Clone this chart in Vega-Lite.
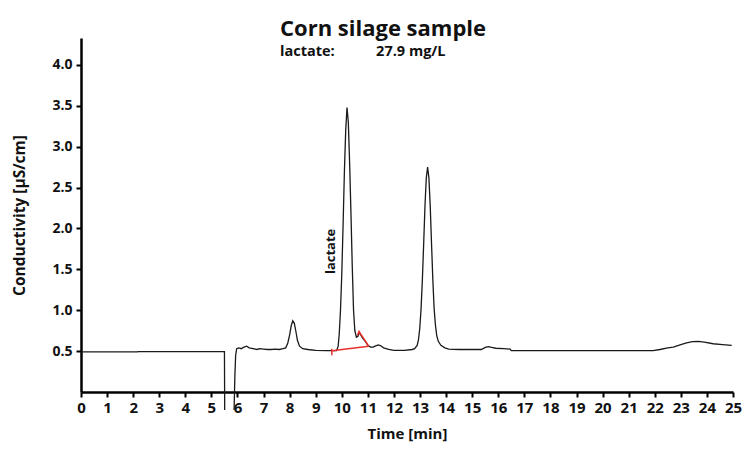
{
  "$schema": "https://vega.github.io/schema/vega-lite/v6.json",
  "width": 652,
  "height": 354,
  "autosize": {"type": "none"},
  "padding": {"left": 81, "top": 38, "right": 11, "bottom": 64},
  "background": "white",
  "config": {
    "view": {"stroke": null},
    "font": "Open Sans"
  },
  "title": {
    "text": "Corn silage sample",
    "subtitle": "lactate:\u00a0\u00a0\u00a0\u00a0\u00a0\u00a0\u00a0\u00a0\u00a0\u00a0\u00a027.9 mg/L",
    "anchor": "start",
    "frame": "group",
    "dx": 199,
    "offset": -21,
    "font": "Open Sans",
    "fontSize": 22,
    "fontWeight": "bold",
    "color": "#111",
    "subtitleFont": "Open Sans",
    "subtitleFontSize": 14.5,
    "subtitleFontWeight": "bold",
    "subtitleColor": "#111",
    "subtitlePadding": 4
  },
  "datasets": {
    "trace": [
      {"t": 0, "y": 0.49, "seg": "a"},
      {"t": 2.15, "y": 0.49, "seg": "a"},
      {"t": 2.2, "y": 0.495, "seg": "a"},
      {"t": 5.5, "y": 0.495, "seg": "a"},
      {"t": 5.51, "y": -0.22, "seg": "a"},
      {"t": 5.87, "y": -0.22, "seg": "b"},
      {"t": 5.9, "y": 0.2, "seg": "b"},
      {"t": 5.93, "y": 0.45, "seg": "b"},
      {"t": 5.97, "y": 0.53, "seg": "b"},
      {"t": 6.05, "y": 0.54, "seg": "b"},
      {"t": 6.15, "y": 0.53, "seg": "b"},
      {"t": 6.25, "y": 0.55, "seg": "b"},
      {"t": 6.35, "y": 0.56, "seg": "b"},
      {"t": 6.45, "y": 0.54, "seg": "b"},
      {"t": 6.6, "y": 0.53, "seg": "b"},
      {"t": 6.75, "y": 0.52, "seg": "b"},
      {"t": 6.85, "y": 0.53, "seg": "b"},
      {"t": 7.0, "y": 0.525, "seg": "b"},
      {"t": 7.15, "y": 0.52, "seg": "b"},
      {"t": 7.3, "y": 0.52, "seg": "b"},
      {"t": 7.45, "y": 0.525, "seg": "b"},
      {"t": 7.6, "y": 0.52, "seg": "b"},
      {"t": 7.75, "y": 0.53, "seg": "b"},
      {"t": 7.85, "y": 0.54, "seg": "b"},
      {"t": 7.93, "y": 0.6, "seg": "b"},
      {"t": 8.0, "y": 0.7, "seg": "b"},
      {"t": 8.06, "y": 0.81, "seg": "b"},
      {"t": 8.12, "y": 0.87, "seg": "b"},
      {"t": 8.18, "y": 0.84, "seg": "b"},
      {"t": 8.24, "y": 0.74, "seg": "b"},
      {"t": 8.3, "y": 0.63, "seg": "b"},
      {"t": 8.38, "y": 0.56, "seg": "b"},
      {"t": 8.5, "y": 0.53, "seg": "b"},
      {"t": 8.7, "y": 0.52, "seg": "b"},
      {"t": 9.0, "y": 0.51, "seg": "b"},
      {"t": 9.4, "y": 0.505, "seg": "b"},
      {"t": 9.8, "y": 0.505, "seg": "b"},
      {"t": 9.86, "y": 0.56, "seg": "b"},
      {"t": 9.9, "y": 0.7, "seg": "b"},
      {"t": 9.95, "y": 1.0, "seg": "b"},
      {"t": 10.0, "y": 1.45, "seg": "b"},
      {"t": 10.05, "y": 2.05, "seg": "b"},
      {"t": 10.1, "y": 2.7, "seg": "b"},
      {"t": 10.15, "y": 3.2, "seg": "b"},
      {"t": 10.2, "y": 3.48, "seg": "b"},
      {"t": 10.25, "y": 3.3, "seg": "b"},
      {"t": 10.3, "y": 2.8, "seg": "b"},
      {"t": 10.35, "y": 2.2, "seg": "b"},
      {"t": 10.4, "y": 1.55, "seg": "b"},
      {"t": 10.45, "y": 1.0, "seg": "b"},
      {"t": 10.5, "y": 0.75, "seg": "b"},
      {"t": 10.56, "y": 0.67, "seg": "b"},
      {"t": 10.62, "y": 0.68, "seg": "b"},
      {"t": 10.67, "y": 0.73, "seg": "b"},
      {"t": 10.72, "y": 0.7, "seg": "b"},
      {"t": 10.8, "y": 0.66, "seg": "b"},
      {"t": 10.9, "y": 0.62, "seg": "b"},
      {"t": 11.0, "y": 0.57, "seg": "b"},
      {"t": 11.1, "y": 0.55, "seg": "b"},
      {"t": 11.2, "y": 0.55, "seg": "b"},
      {"t": 11.3, "y": 0.565, "seg": "b"},
      {"t": 11.4, "y": 0.575, "seg": "b"},
      {"t": 11.5, "y": 0.565, "seg": "b"},
      {"t": 11.6, "y": 0.54, "seg": "b"},
      {"t": 11.8, "y": 0.52, "seg": "b"},
      {"t": 12.0, "y": 0.51, "seg": "b"},
      {"t": 12.4, "y": 0.51, "seg": "b"},
      {"t": 12.7, "y": 0.52, "seg": "b"},
      {"t": 12.79, "y": 0.53, "seg": "b"},
      {"t": 12.89, "y": 0.57, "seg": "b"},
      {"t": 12.94, "y": 0.64, "seg": "b"},
      {"t": 12.99, "y": 0.78, "seg": "b"},
      {"t": 13.04, "y": 1.02, "seg": "b"},
      {"t": 13.09, "y": 1.38, "seg": "b"},
      {"t": 13.14, "y": 1.82, "seg": "b"},
      {"t": 13.19, "y": 2.28, "seg": "b"},
      {"t": 13.24, "y": 2.62, "seg": "b"},
      {"t": 13.29, "y": 2.75, "seg": "b"},
      {"t": 13.34, "y": 2.62, "seg": "b"},
      {"t": 13.39, "y": 2.28, "seg": "b"},
      {"t": 13.44, "y": 1.82, "seg": "b"},
      {"t": 13.49, "y": 1.38, "seg": "b"},
      {"t": 13.54, "y": 1.02, "seg": "b"},
      {"t": 13.59, "y": 0.82, "seg": "b"},
      {"t": 13.64, "y": 0.69, "seg": "b"},
      {"t": 13.7, "y": 0.62, "seg": "b"},
      {"t": 13.8, "y": 0.57, "seg": "b"},
      {"t": 13.95, "y": 0.54, "seg": "b"},
      {"t": 14.1, "y": 0.525, "seg": "b"},
      {"t": 14.5, "y": 0.52, "seg": "b"},
      {"t": 15.0, "y": 0.52, "seg": "b"},
      {"t": 15.35, "y": 0.52, "seg": "b"},
      {"t": 15.5, "y": 0.545, "seg": "b"},
      {"t": 15.62, "y": 0.555, "seg": "b"},
      {"t": 15.75, "y": 0.545, "seg": "b"},
      {"t": 15.9, "y": 0.535, "seg": "b"},
      {"t": 16.2, "y": 0.53, "seg": "b"},
      {"t": 16.45, "y": 0.525, "seg": "b"},
      {"t": 16.5, "y": 0.505, "seg": "b"},
      {"t": 18.0, "y": 0.505, "seg": "b"},
      {"t": 21.0, "y": 0.505, "seg": "b"},
      {"t": 21.94, "y": 0.505, "seg": "b"},
      {"t": 22.2, "y": 0.52, "seg": "b"},
      {"t": 22.5, "y": 0.54, "seg": "b"},
      {"t": 22.71, "y": 0.55, "seg": "b"},
      {"t": 23.0, "y": 0.58, "seg": "b"},
      {"t": 23.22, "y": 0.6, "seg": "b"},
      {"t": 23.45, "y": 0.615, "seg": "b"},
      {"t": 23.67, "y": 0.62, "seg": "b"},
      {"t": 23.9, "y": 0.61, "seg": "b"},
      {"t": 24.24, "y": 0.59, "seg": "b"},
      {"t": 24.6, "y": 0.58, "seg": "b"},
      {"t": 24.95, "y": 0.57, "seg": "b"}
    ],
    "integration": [
      {"t": 9.62, "y": 0.505, "seg": "r1"},
      {"t": 11.03, "y": 0.56, "seg": "r1"},
      {"t": 9.61, "y": 0.53, "seg": "r2"},
      {"t": 9.62, "y": 0.45, "seg": "r2"},
      {"t": 10.6, "y": 0.69, "seg": "r3"},
      {"t": 10.66, "y": 0.74, "seg": "r3"},
      {"t": 10.74, "y": 0.7, "seg": "r3"},
      {"t": 10.85, "y": 0.65, "seg": "r3"},
      {"t": 11.03, "y": 0.56, "seg": "r3"}
    ],
    "labels": [
      {"t": 9.6, "y": 1.72, "label": "lactate"}
    ]
  },
  "encoding": {
    "x": {
      "field": "t", "type": "quantitative",
      "scale": {"domain": [0, 25], "nice": false, "zero": false},
      "axis": {
        "values": [0,1,2,3,4,5,6,7,8,9,10,11,12,13,14,15,16,17,18,19,20,21,22,23,24,25],
        "format": "d",
        "title": "Time [min]",
        "grid": false,
        "domainColor": "#000",
        "domainWidth": 2.5,
        "tickColor": "#000",
        "tickWidth": 2,
        "tickSize": 5,
        "labelFont": "Open Sans",
        "labelFontSize": 15,
        "labelFontWeight": "bold",
        "labelColor": "#111",
        "labelPadding": 3,
        "labelFlush": false,
        "labelOverlap": false,
        "titleFont": "Open Sans",
        "titleFontSize": 15,
        "titleFontWeight": "bold",
        "titleColor": "#111",
        "titlePadding": 11
      }
    },
    "y": {
      "field": "y", "type": "quantitative",
      "scale": {"domain": [0, 4.33], "nice": false, "zero": false},
      "axis": {
        "values": [0.5, 1.0, 1.5, 2.0, 2.5, 3.0, 3.5, 4.0],
        "format": ".1f",
        "title": "Conductivity [µS/cm]",
        "grid": false,
        "domainColor": "#000",
        "domainWidth": 2.5,
        "tickColor": "#000",
        "tickWidth": 2,
        "tickSize": 5,
        "labelFont": "Open Sans",
        "labelFontSize": 14,
        "labelFontWeight": "bold",
        "labelColor": "#111",
        "labelPadding": 4,
        "labelOverlap": false,
        "titleFont": "Open Sans",
        "titleFontSize": 15.5,
        "titleFontWeight": "bold",
        "titleColor": "#111",
        "titlePadding": 24
      }
    }
  },
  "layer": [
    {
      "data": {"name": "trace"},
      "mark": {"type": "line", "color": "#1a1a1a", "strokeWidth": 1.3, "clip": false},
      "encoding": {
        "detail": {"field": "seg", "type": "nominal"}
      }
    },
    {
      "data": {"name": "integration"},
      "mark": {"type": "line", "color": "#e8302a", "strokeWidth": 1.5, "clip": false},
      "encoding": {
        "detail": {"field": "seg", "type": "nominal"}
      }
    },
    {
      "data": {"name": "labels"},
      "mark": {"type": "text", "angle": 270, "font": "Open Sans", "fontSize": 13, "fontWeight": "bold", "color": "#111", "align": "center", "baseline": "middle"},
      "encoding": {
        "text": {"field": "label"}
      }
    }
  ]
}
